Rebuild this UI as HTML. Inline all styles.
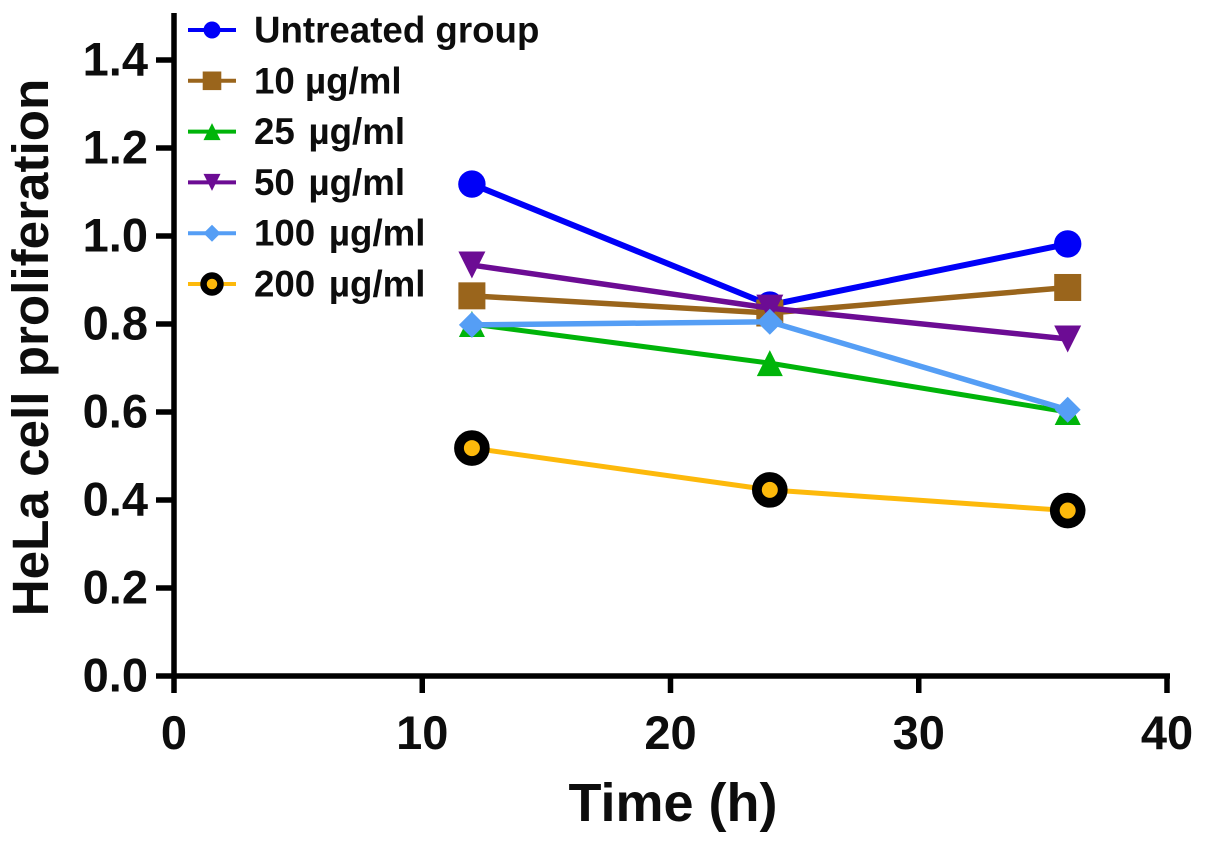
<!DOCTYPE html>
<html>
<head>
<meta charset="utf-8">
<style>
html,body{margin:0;padding:0;background:#fff;}
svg{display:block;}
text{font-family:"Liberation Sans",sans-serif;font-weight:bold;fill:#0d0d0d;}
</style>
</head>
<body>
<svg id="chart" width="1205" height="846" viewBox="0 0 1205 846" xmlns="http://www.w3.org/2000/svg"></svg>
<script>
const times = [12, 24, 36];
const xTicks = [0, 10, 20, 30, 40];
const yTicks = [0.0, 0.2, 0.4, 0.6, 0.8, 1.0, 1.2, 1.4];
const seriesNames = ["Untreated group", "10 µg/ml", "25 µg/ml", "50 µg/ml", "100 µg/ml", "200 µg/ml"];
const untreated = [1.118, 0.843, 0.982];
const dose10 = [0.864, 0.825, 0.883];
const dose25 = [0.80, 0.711, 0.60];
const dose50 = [0.934, 0.836, 0.766];
const dose100 = [0.798, 0.805, 0.605];
const dose200 = [0.518, 0.423, 0.376];

const svg = document.getElementById('chart');
const NS = 'http://www.w3.org/2000/svg';
const xScale = v => 174 + v * (1167 - 174) / 40;
const yScale = v => 676 - v * (676 - 60) / 1.4;

function make(tag, attrs, parent) {
  const el = document.createElementNS(NS, tag);
  for (const k in attrs) el.setAttribute(k, attrs[k]);
  (parent || svg).appendChild(el);
  return el;
}
function marker(g, shape, cx, cy, r, color) {
  let el;
  if (shape === 'circle') {
    el = make('circle', {cx: cx, cy: cy, r: r, fill: color}, g);
  } else if (shape === 'square') {
    el = make('rect', {x: cx - r, y: cy - r, width: 2 * r, height: 2 * r, fill: color}, g);
  } else if (shape === 'up') {
    el = make('polygon', {points: `${cx},${cy - r} ${cx + r},${cy + r} ${cx - r},${cy + r}`, fill: color}, g);
  } else if (shape === 'down') {
    el = make('polygon', {points: `${cx},${cy + r} ${cx + r},${cy - r} ${cx - r},${cy - r}`, fill: color}, g);
  } else if (shape === 'diamond') {
    el = make('polygon', {points: `${cx},${cy - r} ${cx + r},${cy} ${cx},${cy + r} ${cx - r},${cy}`, fill: color}, g);
  } else if (shape === 'ring') {
    el = make('circle', {cx: cx, cy: cy, r: r * 0.725, fill: color, stroke: '#000', 'stroke-width': r * 0.55}, g);
  }
  
  
}

const seriesList = [
  {key: 'untreated', values: untreated, color: '#0000f8', shape: 'circle', r: 13.7, lr: 8.5, sw: 6, lsw: 4},
  {key: 'dose-10', values: dose10, color: '#9a651c', shape: 'square', r: 13.5, lr: 9.3, sw: 5.5, lsw: 4},
  {key: 'dose-25', values: dose25, color: '#00b40a', shape: 'up', r: 13, lr: 8.5, sw: 5, lsw: 4},
  {key: 'dose-50', values: dose50, color: '#6c0c94', shape: 'down', r: 13.5, lr: 8.5, sw: 5.5, lsw: 4},
  {key: 'dose-100', values: dose100, color: '#559ef5', shape: 'diamond', r: 13, lr: 8.5, sw: 5.5, lsw: 4},
  {key: 'dose-200', values: dose200, color: '#fdb90b', shape: 'ring', r: 17.8, lr: 11.7, sw: 5, lsw: 4}
];

// Axes
const axes = make('g', {});


const yAxis = make('line', {x1: 174, y1: 13, x2: 174, y2: 678.5, stroke: '#000', 'stroke-width': 5.5}, axes);


const xAxis = make('line', {x1: 174, y1: 676, x2: 1170, y2: 676, stroke: '#000', 'stroke-width': 5.5}, axes);



yTicks.forEach(t => {
  const y = yScale(t);
  const tick = make('line', {x1: 156, y1: y, x2: 174, y2: y, stroke: '#000', 'stroke-width': 5.5}, axes);
  
  
  const label = make('text', {x: 148, y: y + 15.5, 'text-anchor': 'end', 'font-size': 47}, axes);
  label.textContent = t.toFixed(1);
  
  
});
xTicks.forEach(t => {
  const x = xScale(t);
  const tick = make('line', {x1: x, y1: 676, x2: x, y2: 693, stroke: '#000', 'stroke-width': 5.5}, axes);
  
  
  const label = make('text', {x: x, y: 749, 'text-anchor': 'middle', 'font-size': 47}, axes);
  label.textContent = String(t);
  
  
});

const xTitle = make('text', {x: 673, y: 821, 'text-anchor': 'middle', 'font-size': 54});
xTitle.textContent = 'Time (h)';



const yTitle = make('text', {x: 0, y: 0, transform: 'translate(48,347.5) rotate(-90)', 'text-anchor': 'middle', 'font-size': 51.2});
yTitle.textContent = 'HeLa cell proliferation';



// Series
seriesList.forEach(s => {
  const g = make('g', {});
  
  
  const pts = s.values.map((v, i) => xScale(times[i]) + ',' + yScale(v)).join(' ');
  const line = make('polyline', {points: pts, fill: 'none', stroke: s.color, 'stroke-width': s.sw}, g);
  
  
  s.values.forEach((v, i) => marker(g, s.shape, xScale(times[i]), yScale(v), s.r, s.color));
});

// Legend
const legend = make('g', {});


seriesList.forEach((s, i) => {
  const y = 30 + i * 50.8;
  const g = make('g', {}, legend);
  
  
  const swatch = make('line', {x1: 188, y1: y, x2: 236, y2: y, stroke: s.color, 'stroke-width': s.lsw}, g);
  
  
  marker(g, s.shape, 212, y, s.lr, s.color);
  const t = make('text', {x: 254, y: y + 12.5, 'font-size': 36.7, 'word-spacing': i >= 2 ? 3.5 : 0}, g);
  t.textContent = seriesNames[i];
  
  
});
</script>
</body>
</html>
